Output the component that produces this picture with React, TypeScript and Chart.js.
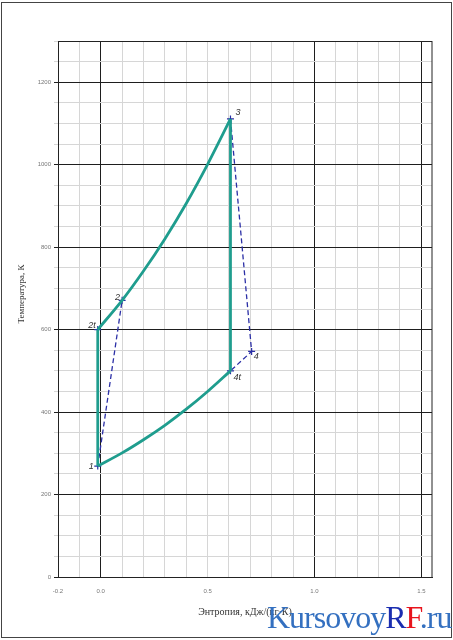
import React, { useEffect, useRef } from "react";
import { Chart, registerables } from "chart.js";

Chart.register(...registerables);

// ---- data ----
const stateLabels = ["1", "2t", "2", "3", "4t", "4"];
const stateS = [-0.014, -0.014, 0.1, 0.607, 0.607, 0.706];
const stateT = [269, 600, 671, 1111, 500, 547];

// upper isobar 2t -> 2 -> 3
const upperS = [-0.014, 0.1, 0.2, 0.3, 0.4, 0.5, 0.607];
const upperT = [600, 671, 742, 820, 906, 1001, 1111];

// lower isobar 1 -> 4t
const lowerS = [-0.014, 0.1, 0.2, 0.3, 0.4, 0.5, 0.607];
const lowerT = [269, 301, 333, 368, 407, 450, 500];

// tick / grid values
const xGridValues = [-0.2, -0.1, 0, 0.1, 0.2, 0.3, 0.4, 0.5, 0.6, 0.7, 0.8, 0.9, 1.0, 1.1, 1.2, 1.3, 1.4, 1.5];
const xLabelValues = [-0.2, 0, 0.5, 1.0, 1.5];
const xMajorValues = [0, 1.0, 1.5];
const yLabelStep = 200;

const xTitle = "Энтропия, кДж/(кг·К)";
const yTitle = "Температура, К";

const TEAL = "#1f9d8e";
const BLUE = "#2b2fa6";

const pts = (xs: number[], ys: number[]) => xs.map((x, i) => ({ x, y: ys[i] }));
const near = (a: number, b: number) => Math.abs(a - b) < 1e-9;

const labelOffsets: Record<string, [number, number, CanvasTextAlign]> = {
  "1": [-4, 0, "right"],
  "2t": [-2, -4, "right"],
  "2": [-2, -3, "right"],
  "3": [5, -6, "left"],
  "4": [2, 5, "left"],
  "4t": [3, 7, "left"],
};

const extrasPlugin = {
  id: "extras",
  afterDatasetsDraw(chart: any) {
    const { ctx, chartArea, scales } = chart;
    ctx.save();
    // frame
    ctx.strokeStyle = "#222";
    ctx.lineWidth = 1;
    ctx.strokeRect(chartArea.left + 0.5, chartArea.top + 0.5, chartArea.right - chartArea.left - 0.5, chartArea.bottom - chartArea.top);
    // point labels
    ctx.fillStyle = "#333";
    ctx.font = "italic 9px 'Liberation Sans', Arial, sans-serif";
    ctx.textBaseline = "middle";
    stateLabels.forEach((lab, i) => {
      const px = scales.x.getPixelForValue(stateS[i]);
      const py = scales.y.getPixelForValue(stateT[i]);
      const [dx, dy, al] = labelOffsets[lab];
      ctx.textAlign = al;
      ctx.fillText(lab, px + dx, py + dy);
    });
    // axis titles
    ctx.fillStyle = "#333";
    ctx.font = "10px 'Liberation Serif', 'Times New Roman', serif";
    ctx.textAlign = "center";
    ctx.textBaseline = "middle";
    ctx.fillText(xTitle, (chartArea.left + chartArea.right) / 2, 612);
    ctx.translate(22, 294);
    ctx.rotate(-Math.PI / 2);
    ctx.font = "9px 'Liberation Serif', 'Times New Roman', serif";
    ctx.fillText(yTitle, 0, 0);
    ctx.restore();
  },
};

export default function App() {
  const ref = useRef<HTMLCanvasElement | null>(null);

  useEffect(() => {
    if (!ref.current) return;
    const line = (data: any[], color: string, width: number, dash: number[] = [], smooth = false) => ({
      type: "line",
      data,
      borderColor: color,
      backgroundColor: color,
      borderWidth: width,
      borderDash: dash,
      pointRadius: 0,
      fill: false,
      showLine: true,
      tension: 0,
      cubicInterpolationMode: smooth ? "monotone" : "default",
    });
    const chart = new Chart(ref.current, {
      type: "scatter",
      data: {
        datasets: [
          line(pts(upperS, upperT), TEAL, 2.8, [], true),
          line(pts(lowerS, lowerT), TEAL, 2.8, [], true),
          line(pts([stateS[0], stateS[1]], [stateT[0], stateT[1]]), TEAL, 2.8),
          line(pts([stateS[3], stateS[4]], [stateT[3], stateT[4]]), TEAL, 2.8),
          line(pts([stateS[0], stateS[2]], [stateT[0], stateT[2]]), BLUE, 1.3, [5, 3]),
          line(pts([stateS[3], stateS[5], stateS[4]], [stateT[3], stateT[5], stateT[4]]), BLUE, 1.3, [5, 3]),
          {
            type: "scatter",
            data: pts(stateS, stateT),
            pointStyle: "cross",
            pointRadius: 3.5,
            borderColor: BLUE,
            borderWidth: 1.2,
            showLine: false,
          },
        ] as any,
      },
      options: {
        animation: false,
        responsive: false,
        maintainAspectRatio: false,
        layout: { padding: { top: 41, right: 21, left: 0, bottom: 0 } },
        plugins: { legend: { display: false }, tooltip: { enabled: false }, title: { display: false } },
        scales: {
          x: {
            type: "linear",
            min: -0.2,
            max: 1.55,
            afterBuildTicks: (scale: any) => {
              scale.ticks = xGridValues.map((v) => ({ value: v }));
            },
            afterFit: (scale: any) => {
              scale.height = 63;
            },
            grid: {
              drawTicks: false,
              color: (c: any) => (xMajorValues.some((m) => near(m, c.tick?.value)) ? "#1e1e1e" : "#d6d6d6"),
              lineWidth: 1,
            },
            border: { display: true, color: "#222", width: 1 },
            ticks: {
              padding: 11,
              color: "#777",
              font: { size: 6, family: "'Liberation Sans', Arial, sans-serif" },
              maxRotation: 0,
              autoSkip: false,
              callback: (v: any) => (xLabelValues.some((m) => near(m, Number(v))) ? Number(v).toFixed(1) : ""),
            },
          },
          y: {
            type: "linear",
            min: 0,
            max: 1300,
            afterFit: (scale: any) => {
              scale.width = 58;
            },
            grid: {
              tickLength: 4,
              color: (c: any) => (c.tick && c.tick.value % yLabelStep === 0 ? "#1e1e1e" : "#d6d6d6"),
              lineWidth: 1,
            },
            border: { display: true, color: "#222", width: 1 },
            ticks: {
              stepSize: 50,
              padding: 3,
              color: "#777",
              font: { size: 6, family: "'Liberation Sans', Arial, sans-serif" },
              autoSkip: false,
              callback: (v: any) => (Number(v) % yLabelStep === 0 ? String(v) : ""),
            },
          },
        },
      },
      plugins: [extrasPlugin],
    } as any);
    return () => chart.destroy();
  }, []);

  return (
    <div style={{ position: "fixed", left: 0, top: 0, width: 453, height: 640, background: "#fff", overflow: "hidden" }}>
      <canvas ref={ref} width={453} height={640} style={{ width: 453, height: 640, display: "block" }} />
      <div
        style={{
          position: "absolute",
          left: 1,
          top: 2,
          width: 449,
          height: 634,
          border: "1px solid #444",
          pointerEvents: "none",
        }}
      />
      <div
        style={{
          position: "absolute",
          left: 267,
          top: 601,
          fontFamily: "'Liberation Serif', 'Times New Roman', serif",
          fontSize: 32,
          lineHeight: "32px",
          letterSpacing: -1,
          color: "#3470c0",
          whiteSpace: "nowrap",
        }}
      >
        Kursovoy<span style={{ color: "#1a2db0" }}>R</span>
        <span style={{ color: "#e8141c" }}>F</span>.ru
      </div>
    </div>
  );
}
